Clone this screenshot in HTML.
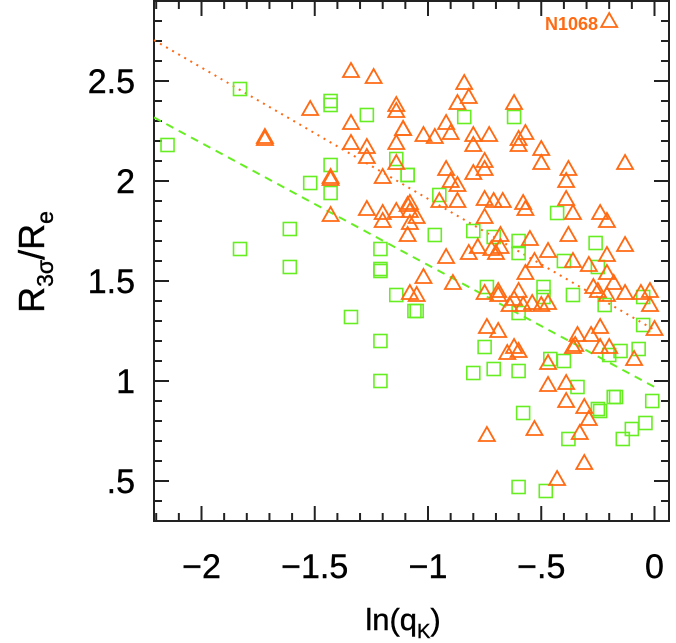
<!DOCTYPE html>
<html><head><meta charset="utf-8"><style>
html,body{margin:0;padding:0;background:#fff;}
svg{display:block;font-family:"Liberation Sans",Arial,sans-serif;}
</style></head><body>
<svg id="chart" width="676" height="643" viewBox="0 0 676 643" xmlns="http://www.w3.org/2000/svg">
<g id="axes"></g>
<g id="lines"></g>
<g id="marks"></g>
<text x="598" y="30" font-size="18" font-weight="bold" fill="#ff6a13" text-anchor="end">N1068</text>
<text x="403" y="630" font-size="31" text-anchor="middle" stroke="#000" stroke-width="0.4">ln(q<tspan font-size="20" dy="8">K</tspan><tspan dy="-8">)</tspan></text>
<text transform="translate(44,262) rotate(-90)" font-size="36" text-anchor="middle" stroke="#000" stroke-width="0.4">R<tspan font-size="23" dy="9">3σ</tspan><tspan dy="-9">/R</tspan><tspan font-size="23" dy="9">e</tspan></text>
</svg>
<script>
// Triangle (orange) series
const triX = [-0.20,-1.34,-1.24,-1.14,-1.14,-1.52,-1.34,-1.11,-1.72,-1.72,-1.34,-1.27,-1.27,-1.14,-1.14,-1.43,-1.43,-1.20,-1.43,-1.20,-1.20,-1.14,-1.27,-1.09,-1.09,
 -0.84,-0.82,-0.87,-0.62,-0.92,-0.90,-1.11,-1.02,-0.97,-0.80,-0.73,-0.57,-0.60,-0.60,-0.50,-0.50,-0.80,-0.75,-0.80,-0.75,-0.92,-0.38,-0.39,-0.13,-0.90,-0.87,
 -1.08,-1.05,-0.95,-0.87,-0.75,-0.71,-0.67,-0.58,-0.57,-0.75,-0.39,-0.36,-0.24,-0.21,-0.38,-0.55,-0.47,-1.08,-1.08,-0.68,-0.68,-0.78,-0.82,-0.72,-0.70,-0.92,-0.53,-0.36,-0.29,-0.13,-0.21,
 -1.02,-0.89,-1.08,-1.05,-0.75,-0.69,-0.69,-0.60,-0.57,-0.64,-0.62,-0.58,-0.54,-0.50,-0.47,-0.27,-0.25,-0.21,-0.21,-0.18,-0.13,-0.06,-0.02,-0.02,0.00,
 -0.74,-0.69,-0.62,-0.65,-0.34,-0.28,-0.24,-0.36,-0.35,-0.24,-0.20,-0.09,-0.47,-0.60,-0.47,-0.39,-0.39,-0.31,-0.29,-0.74,-0.53,-0.33,-0.31,-0.43];
const triY = [2.80,2.55,2.52,2.38,2.35,2.36,2.29,2.26,2.22,2.21,2.19,2.17,2.12,2.19,2.09,2.02,2.01,2.02,1.83,1.84,1.80,1.85,1.86,1.88,1.73,
 2.49,2.42,2.39,2.39,2.29,2.24,2.26,2.23,2.22,2.23,2.23,2.24,2.21,2.18,2.16,2.09,2.18,2.10,2.04,2.06,2.06,2.06,2.00,2.09,2.00,1.98,
 1.89,1.82,1.90,1.90,1.91,1.90,1.90,1.89,1.86,1.82,1.91,1.84,1.84,1.80,1.73,1.71,1.65,1.85,1.79,1.67,1.73,1.67,1.64,1.66,1.64,1.62,1.60,1.60,1.58,1.68,1.63,
 1.52,1.49,1.44,1.43,1.44,1.45,1.43,1.45,1.54,1.38,1.41,1.38,1.39,1.38,1.39,1.47,1.45,1.43,1.54,1.49,1.44,1.44,1.38,1.45,1.26,
 1.27,1.25,1.17,1.14,1.23,1.23,1.27,1.17,1.18,1.17,1.17,1.11,1.09,1.15,0.98,0.99,0.90,0.87,0.81,0.73,0.76,0.74,0.59,0.51];
// Square (green) series
const sqX = [-1.83,-1.43,-1.43,-1.27,-2.15,-1.14,-1.09,-1.43,-1.52,-1.43,-1.61,-1.83,-1.21,-1.61,-1.21,-0.84,-0.62,-1.09,-0.95,-0.43,-0.97,-0.80,-0.71,-0.60,-0.60,-0.40,-0.26,-0.25,
 -1.21,-1.14,-1.34,-1.21,-1.21,-1.06,-0.74,-0.49,-0.49,-0.36,-0.22,-1.05,-0.60,-0.05,-0.05,-0.07,-0.75,-0.80,-0.71,-0.60,-0.46,-0.40,-0.20,-0.15,-0.34,-0.01,-0.18,-0.17,-0.24,-0.25,-0.58,-0.04,-0.10,-0.14,-0.38,-0.60,-0.48];
const sqY = [2.46,2.40,2.38,2.33,2.18,2.11,2.03,2.08,1.99,1.94,1.76,1.66,1.66,1.57,1.55,2.32,2.32,2.03,1.93,1.84,1.73,1.75,1.72,1.70,1.64,1.60,1.69,1.57,
 1.56,1.43,1.32,1.20,1.00,1.35,1.47,1.47,1.42,1.43,1.38,1.35,1.34,1.42,1.28,1.16,1.17,1.04,1.06,1.05,1.11,1.10,1.13,1.15,0.97,0.90,0.92,0.92,0.85,0.86,0.84,0.79,0.76,0.71,0.71,0.47,0.45];
// Fit lines: intercept, slope
const fitOrange = [1.255,-0.656];
const fitGreen = [0.97,-0.61];
const xTicks = [-2,-1.5,-1,-0.5,0];
const xTickLabels = ["\u22122","\u22121.5","\u22121","\u2212.5","0"];
const yTicks = [0.5,1,1.5,2,2.5];
const yTickLabels = [".5","1","1.5","2","2.5"];

const NS="http://www.w3.org/2000/svg";
const L=154,R=669,T=1,B=521;
const X0=-2.2097, X1=0.0640, Y0=0.30, Y1=2.90;
function sx(v){return L+(v-X0)/(X1-X0)*(R-L);}
function sy(v){return B-(v-Y0)/(Y1-Y0)*(B-T);}
function mk(tag,attrs,parent){const e=document.createElementNS(NS,tag);for(const k in attrs)e.setAttribute(k,attrs[k]);parent.appendChild(e);return e;}
const axes=document.getElementById('axes');
const frame=mk('rect',{x:L,y:T,width:R-L,height:B-T,fill:'none',stroke:'#222','stroke-width':2},axes);


for(let i=-22;i<=0;i++){const v=i/10;const maj=(i%5===0);const len=maj?15:8;const x=sx(v);
 const t1=mk('line',{x1:x,x2:x,y1:B,y2:B-len,stroke:'#222','stroke-width':2},axes);
 
 
 const t2=mk('line',{x1:x,x2:x,y1:T,y2:T+len,stroke:'#222','stroke-width':2},axes);
 
 }
for(let i=4;i<=28;i++){const v=i/10;const maj=(i%5===0);const len=maj?15:8;const y=sy(v);
 const t1=mk('line',{x1:L,x2:L+len,y1:y,y2:y,stroke:'#222','stroke-width':2},axes);
 
 
 const t2=mk('line',{x1:R,x2:R-len,y1:y,y2:y,stroke:'#222','stroke-width':2},axes);
 
 }
xTicks.forEach((v,i)=>{const t=mk('text',{x:sx(v),y:578,'font-size':34,'text-anchor':'middle',stroke:'#000','stroke-width':0.4},axes);t.textContent=xTickLabels[i];
 
 });
yTicks.forEach((v,i)=>{const t=mk('text',{x:135,y:sy(v)+12,'font-size':34,'text-anchor':'end',stroke:'#000','stroke-width':0.4},axes);t.textContent=yTickLabels[i];
 
 });
const lines=document.getElementById('lines');
const lo=mk('line',{x1:sx(X0),y1:sy(fitOrange[0]+fitOrange[1]*X0),x2:sx(0),y2:sy(fitOrange[0]),stroke:'#ff6a13','stroke-width':2,'stroke-dasharray':'2 5'},lines);


const lg=mk('line',{x1:sx(X0),y1:sy(fitGreen[0]+fitGreen[1]*X0),x2:sx(0),y2:sy(fitGreen[0]),stroke:'#66ee22','stroke-width':2,'stroke-dasharray':'8 6'},lines);


const marks=document.getElementById('marks');
sqX.forEach((v,i)=>{const x=sx(v),y=sy(sqY[i]);
 const r=mk('rect',{x:x-6.5,y:y-6.5,width:13,height:13,fill:'none',stroke:'#66ee22','stroke-width':1.6},marks);
 
 });
triX.forEach((v,i)=>{const x=sx(v),y=sy(triY[i]);
 const p=mk('polygon',{points:`${x-8},${y+6} ${x+8},${y+6} ${x},${y-8}`,fill:'none',stroke:'#ff6a13','stroke-width':1.8},marks);
 
 });
</script>
</body></html>
